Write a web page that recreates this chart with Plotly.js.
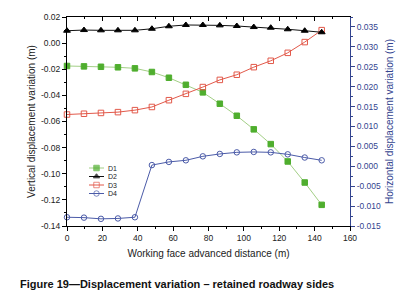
<!DOCTYPE html>
<html>
<head>
<meta charset="utf-8">
<script src="https://cdn.plot.ly/plotly-3.0.1.min.js"></script>
<style>html,body{margin:0;padding:0;background:#fff;}#chart{width:406px;height:300px;}</style>
</head>
<body>
<div id="chart"></div>
<script>
// ---- data ----
var distance = [0, 9.6, 19.2, 28.8, 38.4, 48, 57.6, 67.2, 76.8, 86.4, 96, 105.6, 115.2, 124.8, 134.4, 144];
var d1 = [-0.0175, -0.0178, -0.0181, -0.0185, -0.0193, -0.0221, -0.0265, -0.0319, -0.0377, -0.0464, -0.0556, -0.0660, -0.0773, -0.0906, -0.1067, -0.1238];
var d2 = [0.0095, 0.0100, 0.0098, 0.0098, 0.0098, 0.0110, 0.0129, 0.0139, 0.0139, 0.0136, 0.0131, 0.0123, 0.0118, 0.0106, 0.0095, 0.0083];
var d3 = [0.0130, 0.0132, 0.0134, 0.0136, 0.0141, 0.0149, 0.0166, 0.0182, 0.0199, 0.0217, 0.0230, 0.0249, 0.0265, 0.0285, 0.0312, 0.0342];
var d4 = [-0.0128, -0.0129, -0.0132, -0.0131, -0.0128, 0.0003, 0.0011, 0.0015, 0.0025, 0.0031, 0.0035, 0.0036, 0.0035, 0.0030, 0.0022, 0.0015];
var seriesNames = ['D1', 'D2', 'D3', 'D4'];
var leftTickVals = [0.02, 0.00, -0.02, -0.04, -0.06, -0.08, -0.10, -0.12, -0.14];
var leftTickText = ['0.02', '0.00', '-0.02', '-0.04', '-0.06', '-0.08', '-0.10', '-0.12', '-0.14'];
var rightTickVals = [0.035, 0.030, 0.025, 0.020, 0.015, 0.010, 0.005, 0.000, -0.005, -0.010, -0.015];
var rightTickText = ['0.035', '0.030', '0.025', '0.020', '0.015', '0.010', '0.005', '0.000', '-0.005', '-0.010', '-0.015'];
var xTitle = 'Working face advanced distance (m)';
var yTitle = 'Vertical displacement variation (m)';
var y2Title = 'Horizontal displacement variation (m)';
var caption = 'Figure 19\u2014Displacement variation \u2013 retained roadway sides';

// ---- styles ----
var FONT = 'Liberation Sans, Arial, sans-serif';
var BLUE = '#33448f';
var styles = [
  {line: '#a3cf86', mcolor: '#4fae2e', symbol: 'square', axis: 'y'},
  {line: '#111111', mcolor: '#000000', symbol: 'triangle-up', axis: 'y'},
  {line: '#e2594a', mcolor: '#e2594a', symbol: 'square-open', axis: 'y2'},
  {line: '#4b5ba8', mcolor: '#4b5ba8', symbol: 'circle-open', axis: 'y2'}
];
var allY = [d1, d2, d3, d4];

// plot area pixels
var L = 67, R = 350, T = 17, B = 226, W = 406, H = 300;
function px(x) { return (x - L) / (R - L); }
function py(y) { return (B - y) / (B - T); }

var traces = [];
for (var i = 0; i < 4; i++) {
  var s = styles[i];
  traces.push({
    x: distance, y: allY[i], name: seriesNames[i], yaxis: s.axis,
    type: 'scatter', mode: 'lines+markers', showlegend: false, cliponaxis: false,
    line: {color: s.line, width: 1},
    marker: {symbol: s.symbol, size: i === 1 ? 6 : 5.5, color: s.mcolor, line: {color: s.mcolor, width: 1}}
  });
}

// legend glyphs (small custom legend)
var legRows = [168, 176.5, 185, 193.5];
var annotations = [];
for (var j = 0; j < 4; j++) {
  var st = styles[j];
  traces.push({
    x: [0, 0.5, 1], y: [legRows[j], legRows[j], legRows[j]], xaxis: 'x3', yaxis: 'y3',
    type: 'scatter', mode: 'lines+markers', showlegend: false, hoverinfo: 'skip', cliponaxis: false,
    line: {color: st.line, width: 1},
    marker: {symbol: st.symbol, size: [0, 5.5, 0], color: st.mcolor, line: {color: st.mcolor, width: 1}}
  });
  annotations.push({
    text: seriesNames[j], xref: 'paper', yref: 'paper', x: px(106), y: py(legRows[j]),
    xanchor: 'left', yanchor: 'middle', showarrow: false, font: {family: FONT, size: 7, color: '#222'}
  });
}
annotations.push({
  text: '<b>' + caption + '</b>', xref: 'paper', yref: 'paper', x: px(18), y: py(284),
  xanchor: 'left', yanchor: 'middle', showarrow: false, font: {family: FONT, size: 11, color: '#111'}
});

var layout = {
  width: W, height: H,
  margin: {l: L, r: W - R, t: T, b: H - B, pad: 0},
  paper_bgcolor: '#fff', plot_bgcolor: '#fff',
  font: {family: FONT, size: 8.5, color: '#222'},
  showlegend: false,
  xaxis: {
    range: [0, 160], tickmode: 'linear', tick0: 0, dtick: 20,
    ticks: 'outside', ticklen: 4, tickwidth: 1, tickcolor: '#000',
    minor: {dtick: 10, ticks: 'outside', ticklen: 2, tickcolor: '#000'},
    showline: true, linecolor: '#000', linewidth: 1, mirror: true,
    showgrid: false, zeroline: false,
    tickfont: {family: FONT, size: 8.5, color: '#222'},
    title: {text: xTitle, font: {family: FONT, size: 10, color: '#222'}, standoff: 7}
  },
  xaxis2: {
    overlaying: 'x', side: 'top', anchor: 'y', matches: 'x', range: [0, 160],
    tickmode: 'linear', tick0: 0, dtick: 20, ticks: 'inside', ticklen: 4, tickcolor: '#000',
    minor: {dtick: 10, ticks: 'inside', ticklen: 2, tickcolor: '#000'},
    showticklabels: false, showgrid: false, zeroline: false, showline: false
  },
  yaxis: {
    range: [-0.14, 0.02], tickmode: 'array', tickvals: leftTickVals, ticktext: leftTickText,
    ticks: 'outside', ticklen: 4, tickcolor: '#000',
    minor: {dtick: 0.01, tick0: 0, ticks: 'outside', ticklen: 2, tickcolor: '#000'},
    showline: true, linecolor: '#000', linewidth: 1,
    showgrid: false, zeroline: false,
    tickfont: {family: FONT, size: 8.5, color: '#222'},
    title: {text: yTitle, font: {family: FONT, size: 10, color: '#222'}, standoff: 3}
  },
  yaxis2: {
    overlaying: 'y', side: 'right', anchor: 'x',
    range: [-0.015, 0.0375], tickmode: 'array', tickvals: rightTickVals, ticktext: rightTickText,
    ticks: 'outside', ticklen: 4, tickcolor: BLUE,
    minor: {dtick: 0.0025, tick0: 0, ticks: 'outside', ticklen: 2, tickcolor: BLUE},
    showline: true, linecolor: BLUE, linewidth: 1,
    showgrid: false, zeroline: false,
    tickfont: {family: FONT, size: 8.5, color: BLUE},
    title: {text: y2Title, font: {family: FONT, size: 10, color: BLUE}, standoff: 5}
  },
  xaxis3: {domain: [px(89), px(104)], anchor: 'y3', range: [0, 1], visible: false, fixedrange: true},
  yaxis3: {domain: [py(198), py(164)], anchor: 'x3', range: [198, 164], visible: false, fixedrange: true},
  annotations: annotations
};

// put a trace on the top mirror axis so it is drawn
traces[1].xaxis = 'x2';

Plotly.newPlot('chart', traces, layout, {staticPlot: true, displayModeBar: false});
</script>
</body>
</html>
